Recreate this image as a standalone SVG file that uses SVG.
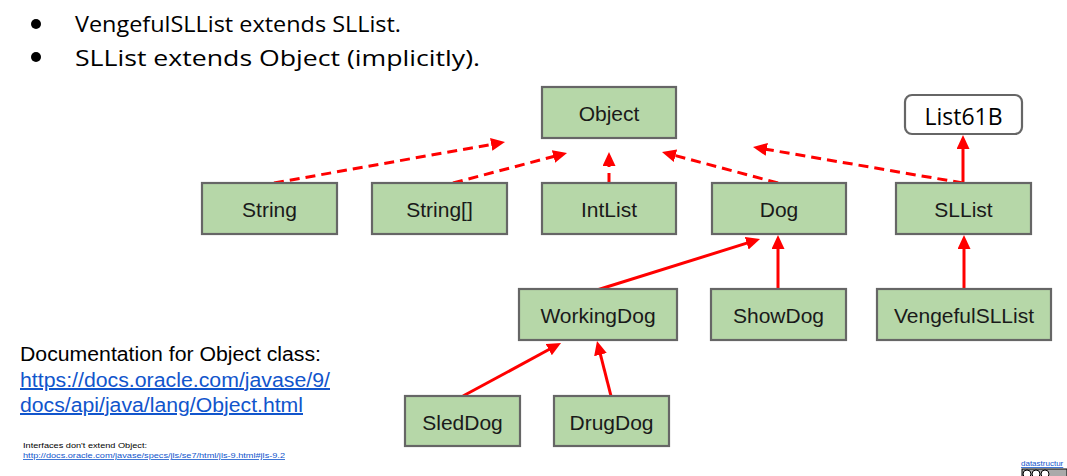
<svg xmlns="http://www.w3.org/2000/svg" width="1067" height="476" viewBox="0 0 1067 476">
<style>
  .box { fill: #b6d7a8; stroke: #666666; stroke-width: 2.2; }
  .iface { fill: #ffffff; stroke: #666666; stroke-width: 2.2; }
  .lbl { font-family: "Liberation Sans", Arial, sans-serif; font-size: 21px; fill: #1a1a1a; text-anchor: middle; }
  .title { font-family: "Open Sans", Lato, sans-serif; font-size: 22px; fill: #000000; }
  .conn { stroke: #ff0000; stroke-width: 3; fill: none; }
  .dash { stroke-dasharray: 10 6; }
  .doc { font-family: "Liberation Sans", Arial, sans-serif; font-size: 20px; fill: #000000; }
  .link { font-family: "Liberation Sans", Arial, sans-serif; font-size: 20px; fill: #1155cc; text-decoration: underline; }
  .small { font-family: "Liberation Sans", Arial, sans-serif; font-size: 8px; fill: #000000; }
  .slink { font-family: "Liberation Sans", Arial, sans-serif; font-size: 8px; fill: #1155cc; text-decoration: underline; }
</style>
<defs>
  <marker id="ah" markerUnits="userSpaceOnUse" markerWidth="16" markerHeight="14" refX="6" refY="6.5" orient="auto">
    <path d="M0,0 L14,6.5 L0,13 z" fill="#ff0000"/>
  </marker>
</defs>
<rect width="1067" height="476" fill="#ffffff"/>

<g id="bullets">
  <circle cx="36" cy="24" r="5" fill="#000"/>
  <text class="title" x="75" y="32" textLength="326" lengthAdjust="spacingAndGlyphs">VengefulSLList extends SLList.</text>
  <circle cx="36" cy="57" r="5" fill="#000"/>
  <text class="title" x="75" y="66" textLength="405" lengthAdjust="spacingAndGlyphs">SLList extends Object (implicitly).</text>
</g>

<g id="connectors">
  <line class="conn dash" x1="274" y1="183" x2="497.1" y2="143.4" marker-end="url(#ah)"/>
  <line class="conn dash" x1="453" y1="183" x2="559.3" y2="155.0" marker-end="url(#ah)"/>
  <line class="conn dash" x1="609" y1="183" x2="609" y2="160" marker-end="url(#ah)"/>
  <line class="conn dash" x1="778" y1="183" x2="669.7" y2="154.1" marker-end="url(#ah)"/>
  <line class="conn dash" x1="963" y1="183" x2="760.9" y2="148.4" marker-end="url(#ah)"/>
  <line class="conn" x1="963" y1="183" x2="963" y2="143" marker-end="url(#ah)"/>
  <line class="conn" x1="597" y1="290" x2="752.4" y2="241.4" marker-end="url(#ah)"/>
  <line class="conn" x1="778" y1="290" x2="778" y2="243" marker-end="url(#ah)"/>
  <line class="conn" x1="964" y1="290" x2="964" y2="243" marker-end="url(#ah)"/>
  <line class="conn" x1="463" y1="396" x2="554.0" y2="346.8" marker-end="url(#ah)"/>
  <line class="conn" x1="611" y1="396" x2="599.0" y2="348.8" marker-end="url(#ah)"/>
</g>

<g id="node-object"><rect class="box" x="542" y="87" width="134" height="51"/><text class="lbl" x="609" y="121">Object</text></g>
<g id="node-list61b"><rect class="iface" x="905" y="95" width="117" height="39" rx="7"/><text x="963.5" y="125" font-family="'Open Sans', Lato, sans-serif" font-size="24" text-anchor="middle" fill="#000" textLength="78" lengthAdjust="spacingAndGlyphs">List61B</text></g>
<g id="node-string"><rect class="box" x="202" y="183" width="135" height="51"/><text class="lbl" x="269.5" y="217">String</text></g>
<g id="node-stringarr"><rect class="box" x="372" y="183" width="135" height="51"/><text class="lbl" x="439.5" y="217">String[]</text></g>
<g id="node-intlist"><rect class="box" x="542" y="183" width="134" height="51"/><text class="lbl" x="609" y="217">IntList</text></g>
<g id="node-dog"><rect class="box" x="712" y="183" width="134" height="51"/><text class="lbl" x="779" y="217">Dog</text></g>
<g id="node-sllist"><rect class="box" x="896" y="183" width="135" height="51"/><text class="lbl" x="963.5" y="217">SLList</text></g>
<g id="node-workingdog"><rect class="box" x="519" y="289" width="158" height="51"/><text class="lbl" x="598" y="323">WorkingDog</text></g>
<g id="node-showdog"><rect class="box" x="711" y="289" width="135" height="51"/><text class="lbl" x="778.5" y="323">ShowDog</text></g>
<g id="node-vengefulsllist"><rect class="box" x="877" y="289" width="174" height="51"/><text class="lbl" x="964" y="323">VengefulSLList</text></g>
<g id="node-sleddog"><rect class="box" x="405" y="396" width="115" height="50"/><text class="lbl" x="462.5" y="430">SledDog</text></g>
<g id="node-drugdog"><rect class="box" x="554" y="396" width="115" height="50"/><text class="lbl" x="611.5" y="430">DrugDog</text></g>

<g id="notes">
  <text class="doc" x="20" y="361" textLength="301" lengthAdjust="spacingAndGlyphs">Documentation for Object class:</text>
  <text class="link" x="20" y="387" textLength="310" lengthAdjust="spacingAndGlyphs">https://docs.oracle.com/javase/9/</text>
  <text class="link" x="20" y="412" textLength="283" lengthAdjust="spacingAndGlyphs">docs/api/java/lang/Object.html</text>
  <text class="small" x="23" y="448" textLength="124" lengthAdjust="spacingAndGlyphs">Interfaces don't extend Object:</text>
  <text class="slink" x="23" y="458" textLength="262" lengthAdjust="spacingAndGlyphs">http://docs.oracle.com/javase/specs/jls/se7/html/jls-9.html#jls-9.2</text>
  <text class="slink" x="1021" y="466">datastructur</text>
  <rect x="1022" y="469" width="45" height="9" fill="#aaaaaa" stroke="#000" stroke-width="1"/>
  <circle cx="1027" cy="474" r="4" fill="#fff" stroke="#000" stroke-width="1"/>
  <circle cx="1036" cy="474" r="4" fill="#fff" stroke="#000" stroke-width="1"/>
  <circle cx="1045" cy="474" r="4" fill="#fff" stroke="#000" stroke-width="1"/>
</g>
</svg>
